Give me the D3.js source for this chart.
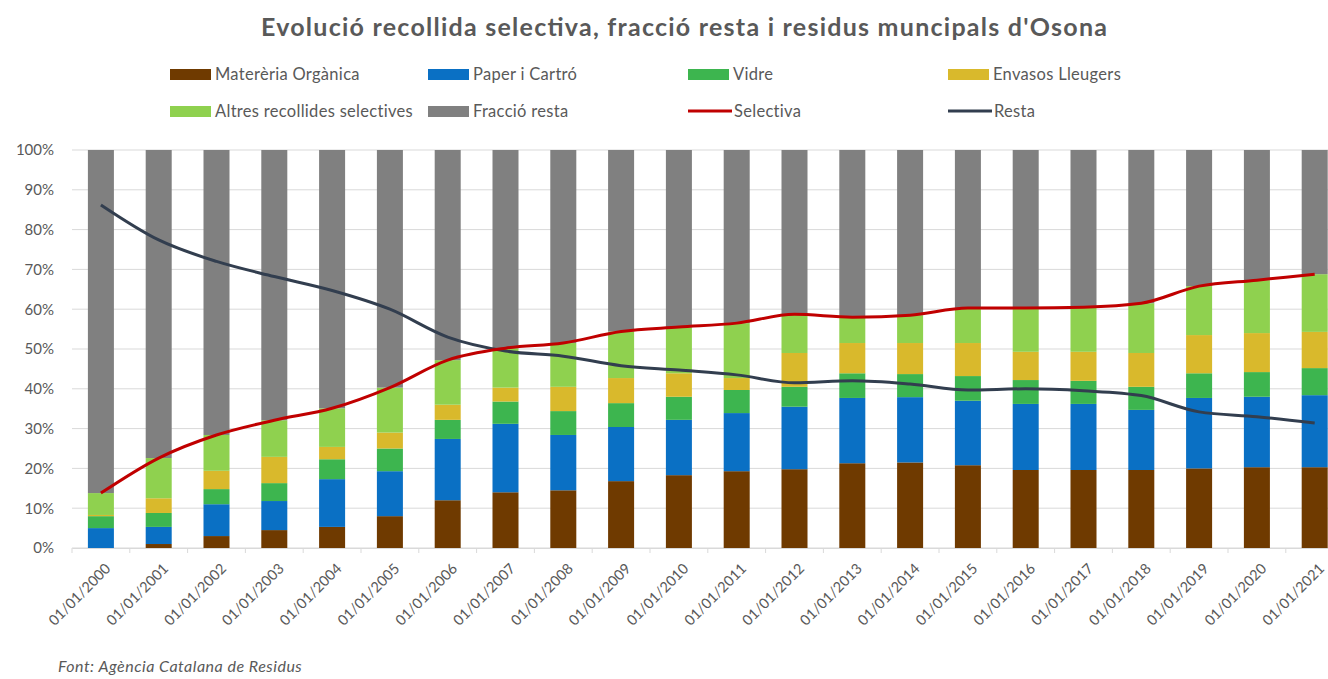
<!DOCTYPE html>
<html>
<head>
<meta charset="utf-8">
<script src="https://cdn.jsdelivr.net/npm/d3@7"></script>
<style>
  body { margin: 0; background: #fff; }
  text { font-family: Lato, "Open Sans", sans-serif; }
</style>
</head>
<body>
<div id="chart"></div>
<script>
const width = 1328;
const height = 679;
const margin = { top: 150, right: -16, bottom: 131, left: 72 };

// Data (percent of municipal waste)
const years = ["2000","2001","2002","2003","2004","2005","2006","2007","2008","2009","2010",
               "2011","2012","2013","2014","2015","2016","2017","2018","2019","2020","2021"];
const organica = [0, 1.0, 3.0, 4.5, 5.3, 8.0, 12.0, 14.0, 14.5, 16.8, 18.3, 19.3, 19.8, 21.3, 21.5, 20.8, 19.6, 19.6, 19.6, 20.0, 20.3, 20.3];
const paper    = [5.0, 4.3, 8.0, 7.3, 12.0, 11.3, 15.4, 17.2, 13.9, 13.6, 13.9, 14.6, 15.7, 16.4, 16.4, 16.2, 16.6, 16.6, 15.1, 17.7, 17.7, 18.1];
const vidre    = [3.0, 3.5, 3.8, 4.5, 5.0, 5.7, 4.8, 5.6, 6.0, 6.0, 5.8, 5.8, 5.0, 6.2, 5.8, 6.2, 6.0, 5.8, 5.8, 6.2, 6.2, 6.8];
const envasos  = [0.3, 3.7, 4.6, 6.6, 3.1, 4.0, 3.8, 3.5, 6.1, 6.3, 5.9, 3.0, 8.5, 7.6, 7.8, 8.3, 7.1, 7.3, 8.5, 9.6, 9.8, 9.1];
const altres   = [5.5, 10.1, 9.0, 9.2, 9.7, 11.3, 11.2, 9.9, 11.0, 11.7, 11.6, 13.8, 9.7, 6.5, 7.0, 8.8, 11.0, 11.2, 12.5, 12.3, 13.3, 14.5];
const selectiva = [13.8, 22.6, 28.4, 32.1, 35.1, 40.3, 47.2, 50.2, 51.5, 54.4, 55.5, 56.5, 58.7, 58.0, 58.5, 60.3, 60.3, 60.5, 61.5, 65.8, 67.3, 68.8];
const resta     = [86.2, 77.4, 72.0, 68.2, 64.7, 60.0, 53.0, 49.5, 48.2, 45.8, 44.7, 43.5, 41.5, 42.0, 41.2, 39.7, 40.0, 39.5, 38.3, 34.2, 33.0, 31.4];
const yTicks = [0, 10, 20, 30, 40, 50, 60, 70, 80, 90, 100];

const stackKeys = ["organica", "paper", "vidre", "envasos", "altres", "fraccio"];
const stackNames = ["Materèria Orgànica", "Paper i Cartró", "Vidre", "Envasos Lleugers", "Altres recollides selectives", "Fracció resta"];
const stackColors = ["#6f3a00", "#0a70c4", "#3db54f", "#d9b92c", "#8fd14f", "#808080"];

const table = years.map((y, i) => ({
  year: y,
  organica: organica[i], paper: paper[i], vidre: vidre[i],
  envasos: envasos[i], altres: altres[i],
  fraccio: 100 - (organica[i] + paper[i] + vidre[i] + envasos[i] + altres[i])
}));

const svg = d3.select("#chart")
  .append("svg")
  .attr("width", width)
  .attr("height", height);

const x = d3.scaleBand()
  .domain(years)
  .range([margin.left, margin.left + 22 * 57.8])
  .paddingInner(0.55)
  .paddingOuter(0.275);

const y = d3.scaleLinear()
  .domain([0, 100])
  .range([height - margin.bottom, margin.top]);

// Title
svg.append("text")
  .attr("x", 684)
  .attr("y", 36)
  .attr("text-anchor", "middle")
  .attr("font-size", 25)
  .attr("font-weight", "bold")
  .attr("fill", "#595959")
  .attr("textLength", 846)
  .attr("lengthAdjust", "spacing")
  .text("Evolució recollida selectiva, fracció resta i residus muncipals d'Osona");

// Gridlines
svg.append("g")
  .selectAll("line")
  .data(yTicks)
  .join("line")
  .attr("x1", margin.left)
  .attr("x2", width)
  .attr("y1", d => y(d))
  .attr("y2", d => y(d))
  .attr("stroke", "#d9d9d9")
  .attr("stroke-width", 1);

// Y axis labels
const gY = svg.append("g")
  .attr("transform", `translate(${margin.left}, 0)`)
  .call(d3.axisLeft(y).tickValues(yTicks).tickFormat(d => d + "%").tickSize(0).tickPadding(18));
gY.select(".domain").remove();
gY.selectAll("text")
  .attr("font-size", 15)
  .attr("fill", "#595959")
  .style("font-family", "Lato, sans-serif");

// Stacked bars
const series = d3.stack().keys(stackKeys)(table);
const color = d3.scaleOrdinal().domain(stackKeys).range(stackColors);

svg.append("g")
  .selectAll("g")
  .data(series)
  .join("g")
  .attr("fill", d => color(d.key))
  .selectAll("rect")
  .data(d => d)
  .join("rect")
  .attr("x", d => x(d.data.year))
  .attr("width", x.bandwidth())
  .attr("y", d => y(d[1]))
  .attr("height", d => Math.max(0, y(d[0]) - y(d[1])));

// X axis
const gX = svg.append("g")
  .attr("transform", `translate(0, ${y(0)})`)
  .call(d3.axisBottom(x).tickSize(0).tickPadding(0));
gX.select(".domain").attr("stroke", "#d9d9d9");
gX.selectAll("text")
  .attr("font-size", 14.5)
  .attr("fill", "#595959")
  .style("font-family", "Lato, sans-serif")
  .attr("text-anchor", "end")
  .attr("transform", "translate(7, 18) rotate(-45)")
  .attr("dy", "0.35em")
  .attr("y", 0)
  .text(d => "01/01/" + d);

// small tick marks between categories
svg.append("g")
  .selectAll("line")
  .data(years)
  .join("line")
  .attr("x1", d => x(d) - x.step() * 0.275)
  .attr("x2", d => x(d) - x.step() * 0.275)
  .attr("y1", y(0))
  .attr("y2", y(0) + 5)
  .attr("stroke", "#d9d9d9");

// Lines
const cx = d => x(d) + x.bandwidth() / 2;
const line = d3.line()
  .x(d => cx(d.year))
  .y(d => y(d.v))
  .curve(d3.curveMonotoneX);

svg.append("path")
  .datum(years.map((yr, i) => ({ year: yr, v: resta[i] })))
  .attr("fill", "none")
  .attr("stroke", "#323e4f")
  .attr("stroke-width", 3)
  .attr("d", line);

svg.append("path")
  .datum(years.map((yr, i) => ({ year: yr, v: selectiva[i] })))
  .attr("fill", "none")
  .attr("stroke", "#c00000")
  .attr("stroke-width", 3)
  .attr("d", line);

// Legend
const legendItems = [
  { name: stackNames[0], color: stackColors[0], type: "rect", col: 0, row: 0 },
  { name: stackNames[1], color: stackColors[1], type: "rect", col: 1, row: 0 },
  { name: stackNames[2], color: stackColors[2], type: "rect", col: 2, row: 0 },
  { name: stackNames[3], color: stackColors[3], type: "rect", col: 3, row: 0 },
  { name: stackNames[4], color: stackColors[4], type: "rect", col: 0, row: 1 },
  { name: stackNames[5], color: stackColors[5], type: "rect", col: 1, row: 1 },
  { name: "Selectiva", color: "#c00000", type: "line", col: 2, row: 1 },
  { name: "Resta", color: "#323e4f", type: "line", col: 3, row: 1 }
];
const legendX = [170, 428, 688, 948];
const legendY = [74, 111];

const lg = svg.append("g")
  .selectAll("g")
  .data(legendItems)
  .join("g")
  .attr("transform", d => `translate(${legendX[d.col]}, ${legendY[d.row]})`);

lg.filter(d => d.type === "rect")
  .append("rect")
  .attr("x", 0).attr("y", -5)
  .attr("width", 41).attr("height", 11)
  .attr("fill", d => d.color);

lg.filter(d => d.type === "line")
  .append("line")
  .attr("x1", 0).attr("x2", 44)
  .attr("y1", 0).attr("y2", 0)
  .attr("stroke", d => d.color)
  .attr("stroke-width", 3);

lg.append("text")
  .attr("x", d => d.type === "rect" ? 45 : 46)
  .attr("y", 0)
  .attr("dy", "0.35em")
  .attr("font-size", 16.5)
  .attr("letter-spacing", 0.3)
  .attr("fill", "#595959")
  .text(d => d.name);

// Source
svg.append("text")
  .attr("x", 58)
  .attr("y", 672)
  .attr("font-size", 16)
  .attr("font-style", "italic")
  .attr("letter-spacing", 0.5)
  .attr("fill", "#595959")
  .text("Font: Agència Catalana de Residus");
</script>
</body>
</html>
